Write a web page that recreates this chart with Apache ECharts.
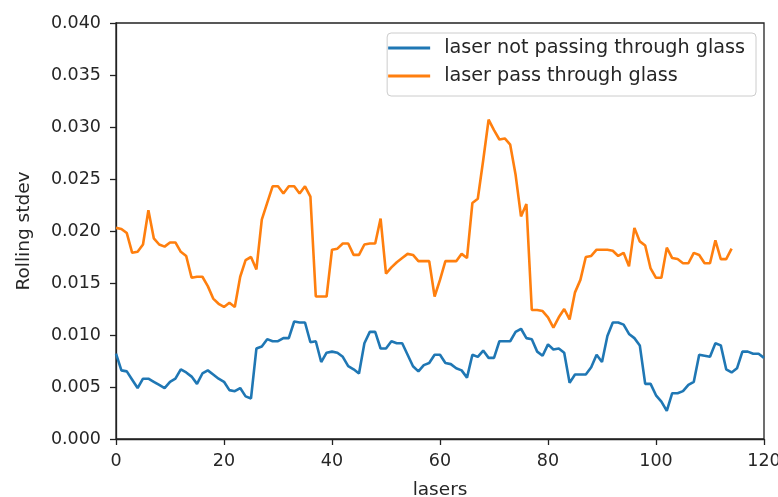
<!DOCTYPE html>
<html>
<head>
<meta charset="utf-8">
<script src="https://cdn.jsdelivr.net/npm/echarts@6/dist/echarts.min.js"></script>
<style>
html, body { margin: 0; padding: 0; background: #fff; }
#chart { width: 778px; height: 497px; }
</style>
</head>
<body>
<div id="chart"></div>
<script>
//---------------------------Data---------------------------
let seriesNames = ["laser not passing through glass", "laser pass through glass"];
let xTicks = [0, 20, 40, 60, 80, 100, 120];

//rolling stdev, laser index 0..120
let noGlass = [
    0.0082, 0.0066, 0.0065, 0.0057, 0.0049, 0.0058, 0.0058, 0.0055, 0.0052, 0.0049,
    0.0055, 0.0058, 0.0067, 0.0064, 0.0060, 0.0053, 0.0063, 0.0066, 0.0062, 0.0058,
    0.0055, 0.0047, 0.0046, 0.0049, 0.0041, 0.0039, 0.0087, 0.0089, 0.0096, 0.0094,
    0.0094, 0.0097, 0.0097, 0.0113, 0.0112, 0.0112, 0.0093, 0.0094, 0.0074, 0.0083,
    0.0084, 0.0083, 0.0079, 0.0070, 0.0067, 0.0063, 0.0092, 0.0103, 0.0103, 0.0087,
    0.0087, 0.0094, 0.0092, 0.0092, 0.0081, 0.0070, 0.0065, 0.0071, 0.0073, 0.0081,
    0.0081, 0.0073, 0.0072, 0.0068, 0.0066, 0.0059, 0.0081, 0.0079, 0.0085, 0.0078,
    0.0078, 0.0094, 0.0094, 0.0094, 0.0103, 0.0106, 0.0097, 0.0096, 0.0084, 0.0080,
    0.0091, 0.0086, 0.0087, 0.0083, 0.0054, 0.0062, 0.0062, 0.0062, 0.0069, 0.0081,
    0.0074, 0.0099, 0.0112, 0.0112, 0.0110, 0.0101, 0.0097, 0.0090, 0.0053, 0.0053,
    0.0042, 0.0036, 0.0027, 0.0044, 0.0044, 0.0046, 0.0052, 0.0055, 0.0081, 0.0080,
    0.0079, 0.0092, 0.0090, 0.0067, 0.0064, 0.0068, 0.0084, 0.0084, 0.0082, 0.0082,
    0.0078
];

//rolling stdev, laser index 0..114
let withGlass = [
    0.0203, 0.0202, 0.0198, 0.0179, 0.0180, 0.0187, 0.0220, 0.0193, 0.0187, 0.0185,
    0.0189, 0.0189, 0.0180, 0.0176, 0.0155, 0.0156, 0.0156, 0.0147, 0.0135, 0.0130,
    0.0127, 0.0131, 0.0127, 0.0156, 0.0172, 0.0175, 0.0163, 0.0211, 0.0227, 0.0243,
    0.0243, 0.0236, 0.0243, 0.0243, 0.0236, 0.0243, 0.0233, 0.0137, 0.0137, 0.0137,
    0.0182, 0.0183, 0.0188, 0.0188, 0.0177, 0.0177, 0.0187, 0.0188, 0.0188, 0.0212,
    0.0159, 0.0165, 0.0170, 0.0174, 0.0178, 0.0177, 0.0171, 0.0171, 0.0171, 0.0137,
    0.0153, 0.0171, 0.0171, 0.0171, 0.0178, 0.0174, 0.0227, 0.0231, 0.0268, 0.0307,
    0.0297, 0.0288, 0.0289, 0.0283, 0.0254, 0.0214, 0.0226, 0.0124, 0.0124, 0.0123,
    0.0117, 0.0107, 0.0117, 0.0125, 0.0115, 0.0141, 0.0153, 0.0175, 0.0176, 0.0182,
    0.0182, 0.0182, 0.0181, 0.0176, 0.0179, 0.0166, 0.0203, 0.0190, 0.0186, 0.0164,
    0.0155, 0.0155, 0.0184, 0.0174, 0.0173, 0.0169, 0.0169, 0.0179, 0.0177, 0.0169,
    0.0169, 0.0191, 0.0173, 0.0173, 0.0183
];

//---------------------------Chart---------------------------
let chart = echarts.init(document.getElementById('chart'));

let font = "DejaVu Sans";
let textColor = "#262626";

function toPairs(arr) {
    let out = [];
    for (let i = 0; i < arr.length; i++) {
        out.push([i, arr[i]]);
    }
    return out;
}

let option = {
    animation: false,
    backgroundColor: "#fff",
    grid: {
        left: 116, right: 14, top: 23, bottom: 58,
        show: true,
        borderColor: "#222",
        borderWidth: 1.3,
        containLabel: false,
        outerBoundsMode: "none"
    },
    legend: {
        right: 22, top: 33,
        orient: "vertical",
        itemWidth: 42, itemHeight: 3, itemGap: 8,
        padding: [5, 11, 10, 1],
        borderColor: "#ccc",
        borderWidth: 1,
        borderRadius: 4,
        backgroundColor: "#fff",
        icon: "rect",
        textStyle: { fontFamily: font, fontSize: 19.2, lineHeight: 20, color: textColor, padding: [0, 0, 0, 9] },
        data: seriesNames
    },
    xAxis: {
        type: "value",
        min: 0, max: 120, interval: 20,
        name: "lasers",
        nameLocation: "middle",
        nameGap: 42,
        nameTextStyle: { fontFamily: font, fontSize: 18.5, color: textColor },
        axisLine: { lineStyle: { color: "#222", width: 1.3 } },
        axisTick: { length: 6, lineStyle: { color: "#222", width: 1.3 } },
        axisLabel: {
            fontFamily: font, fontSize: 17.5, color: textColor, margin: 13,
            formatter: function (v) { return xTicks.indexOf(v) >= 0 ? String(v) : ""; }
        },
        splitLine: { show: false }
    },
    yAxis: {
        type: "value",
        min: 0, max: 0.04, interval: 0.005,
        name: "Rolling stdev",
        nameLocation: "middle",
        nameGap: 82,
        nameTextStyle: { fontFamily: font, fontSize: 18.5, color: textColor },
        axisLine: { lineStyle: { color: "#222", width: 1.3 } },
        axisTick: { length: 6, lineStyle: { color: "#222", width: 1.3 } },
        axisLabel: {
            fontFamily: font, fontSize: 17.5, color: textColor, margin: 15,
            formatter: function (v) { return v.toFixed(3); }
        },
        splitLine: { show: false }
    },
    series: [
        {
            name: seriesNames[0],
            type: "line",
            data: toPairs(noGlass),
            showSymbol: false,
            color: "#1f77b4",
            lineStyle: { width: 2.6, color: "#1f77b4" }
        },
        {
            name: seriesNames[1],
            type: "line",
            data: toPairs(withGlass),
            showSymbol: false,
            color: "#ff7f0e",
            lineStyle: { width: 2.6, color: "#ff7f0e" }
        }
    ]
};

chart.setOption(option);
</script>
</body>
</html>
